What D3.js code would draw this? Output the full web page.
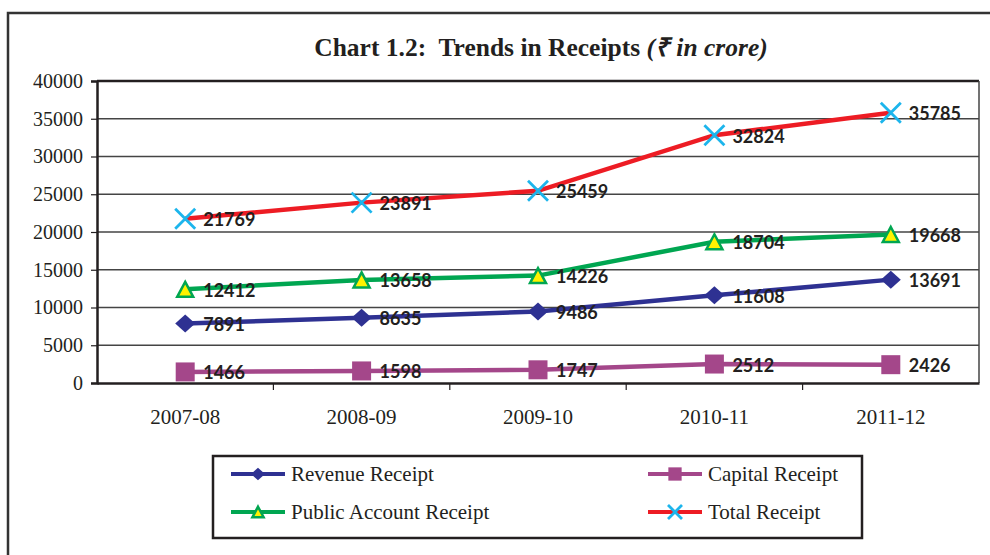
<!DOCTYPE html>
<html>
<head>
<meta charset="utf-8">
<script src="https://cdn.jsdelivr.net/npm/d3@7"></script>
<style>
  body { margin: 0; background: #fff; }
  svg { display: block; }
</style>
</head>
<body>
<div id="chart"></div>
<script>
// data
var years = ["2007-08", "2008-09", "2009-10", "2010-11", "2011-12"];
var revenueReceipt = [7891, 8635, 9486, 11608, 13691];
var capitalReceipt = [1466, 1598, 1747, 2512, 2426];
var publicAccountReceipt = [12412, 13658, 14226, 18704, 19668];
var totalReceipt = [21769, 23891, 25459, 32824, 35785];
var yTicks = [0, 5000, 10000, 15000, 20000, 25000, 30000, 35000, 40000];

var series = [
  {name: "Revenue Receipt", values: revenueReceipt, line: "#2e3192", marker: "diamond", fill: "#2e3192", stroke: "#2e3192"},
  {name: "Capital Receipt", values: capitalReceipt, line: "#a4478a", marker: "square", fill: "#a4478a", stroke: "#a4478a"},
  {name: "Public Account Receipt", values: publicAccountReceipt, line: "#00a651", marker: "triangle", fill: "#fff200", stroke: "#00a651"},
  {name: "Total Receipt", values: totalReceipt, line: "#ed1c24", marker: "cross", fill: "none", stroke: "#1cb5ec"}
];

var serif = "'Liberation Serif', 'Times New Roman', serif";
var W = 990, H = 555;
var margin = {top: 81, right: 11, bottom: 172, left: 97};

var svg = d3.select("#chart").append("svg")
  .attr("width", W).attr("height", H);

// outer frame
svg.append("path")
  .attr("d", "M8," + H + " L8,13 L" + W + ",13")
  .attr("fill", "none").attr("stroke", "#333").attr("stroke-width", 2.5);

// title
var title = svg.append("text")
  .attr("x", 541).attr("y", 56)
  .attr("text-anchor", "middle")
  .style("font-family", serif)
  .style("font-size", "25.5px").style("font-weight", "bold").style("fill", "#231f20");
title.append("tspan").text("Chart 1.2:\u00a0 Trends in Receipts ");
title.append("tspan").style("font-style", "italic").text("(\u20b9 in crore)");

var x = d3.scaleBand()
  .domain(years)
  .range([margin.left, W - margin.right]);

var y = d3.scaleLinear()
  .domain([0, 40000])
  .range([H - margin.bottom, margin.top]);

// gridlines
svg.append("g").selectAll("line")
  .data(yTicks.slice(1, -1))
  .enter().append("line")
    .attr("x1", margin.left).attr("x2", W - margin.right)
    .attr("y1", function(d) { return y(d); }).attr("y2", function(d) { return y(d); })
    .attr("stroke", "#444").attr("stroke-width", 1.5);

// plot border
svg.append("line")
  .attr("x1", margin.left).attr("x2", W - margin.right)
  .attr("y1", y(40000)).attr("y2", y(40000))
  .attr("stroke", "#231f20").attr("stroke-width", 2.5);
svg.append("line")
  .attr("x1", W - margin.right).attr("x2", W - margin.right)
  .attr("y1", y(40000)).attr("y2", y(0))
  .attr("stroke", "#444").attr("stroke-width", 1.5);

// y axis
var yAxis = svg.append("g")
  .attr("transform", "translate(" + margin.left + ",0)")
  .call(d3.axisLeft(y).tickValues(yTicks).tickSize(6).tickPadding(8).tickFormat(d3.format("d")));
yAxis.select(".domain").attr("stroke", "#231f20").attr("stroke-width", 2.5);
yAxis.selectAll(".tick line").attr("stroke", "#231f20").attr("stroke-width", 1.2);
yAxis.selectAll("text")
  .style("font-family", serif)
  .style("font-size", "20px").style("fill", "#231f20");

// x axis
var xAxis = svg.append("g")
  .attr("transform", "translate(0," + y(0) + ")")
  .call(d3.axisBottom(x).tickSize(0).tickPadding(26));
xAxis.select(".domain").attr("stroke", "#231f20").attr("stroke-width", 2.5);
xAxis.selectAll("text")
  .style("font-family", serif)
  .style("font-size", "21px").style("fill", "#231f20");
// category boundary ticks
xAxis.selectAll("line.bound")
  .data(years.slice(1))
  .enter().append("line").attr("class", "bound")
    .attr("x1", function(d) { return x(d); }).attr("x2", function(d) { return x(d); })
    .attr("y1", 0).attr("y2", 7)
    .attr("stroke", "#231f20").attr("stroke-width", 1.2);

function drawMarker(g, s, k) {
  // k scales the marker (1 = plot size)
  var p;
  if (s.marker === "cross") {
    var h = 10 * k;
    g.append("path")
      .attr("d", "M" + (-h) + "," + (-h) + "L" + h + "," + h + "M" + (-h) + "," + h + "L" + h + "," + (-h))
      .attr("stroke", s.stroke).attr("stroke-width", 2.8).attr("fill", "none");
    return;
  }
  if (s.marker === "diamond") {
    var a = 10 * k, b = 9 * k;
    p = "M0," + (-b) + "L" + a + ",0L0," + b + "L" + (-a) + ",0Z";
  } else if (s.marker === "square") {
    var q = 9.5 * k;
    p = "M" + (-q) + "," + (-q) + "H" + q + "V" + q + "H" + (-q) + "Z";
  } else {
    var tw = 8 * k, th = 7.5 * k;
    p = "M0," + (-th) + "L" + tw + "," + th + "L" + (-tw) + "," + th + "Z";
  }
  g.append("path")
    .attr("d", p)
    .attr("fill", s.fill).attr("stroke", s.stroke)
    .attr("stroke-width", s.marker === "triangle" ? 2.5 : 0)
    .attr("stroke-linejoin", "miter");
}

var line = d3.line()
  .x(function(d, i) { return x(years[i]) + x.bandwidth() / 2; })
  .y(function(d) { return y(d); });

series.forEach(function(s) {
  svg.append("path")
    .datum(s.values)
    .attr("d", line)
    .attr("fill", "none").attr("stroke", s.line).attr("stroke-width", 4.5);

  var pts = svg.append("g").selectAll("g")
    .data(s.values)
    .enter().append("g")
      .attr("transform", function(d, i) {
        return "translate(" + (x(years[i]) + x.bandwidth() / 2) + "," + y(d) + ")";
      });
  pts.each(function() { drawMarker(d3.select(this), s, 1); });
  pts.append("text")
    .attr("x", 18).attr("dy", "0.42em")
    .style("font-family", "Lato, 'Open Sans', sans-serif")
    .style("font-size", "18px").style("font-weight", "bold").style("fill", "#231f20")
    .text(function(d) { return d; });
});

// legend
var legend = svg.append("g");
legend.append("rect")
  .attr("x", 213).attr("y", 456).attr("width", 649).attr("height", 82)
  .attr("fill", "none").attr("stroke", "#231f20").attr("stroke-width", 2.5);

var legPos = [[231, 474], [648, 474], [231, 512], [648, 512]];
series.forEach(function(s, j) {
  var g = legend.append("g").attr("transform", "translate(" + legPos[j][0] + "," + legPos[j][1] + ")");
  g.append("line").attr("x1", 0).attr("x2", 54).attr("y1", 0).attr("y2", 0)
    .attr("stroke", s.line).attr("stroke-width", 4);
  var m = g.append("g").attr("transform", "translate(27,0)");
  drawMarker(m, s, 0.7);
  g.append("text").attr("x", 60).attr("dy", "0.33em")
    .style("font-family", serif)
    .style("font-size", "21px").style("fill", "#231f20")
    .text(s.name);
});
</script>
</body>
</html>
